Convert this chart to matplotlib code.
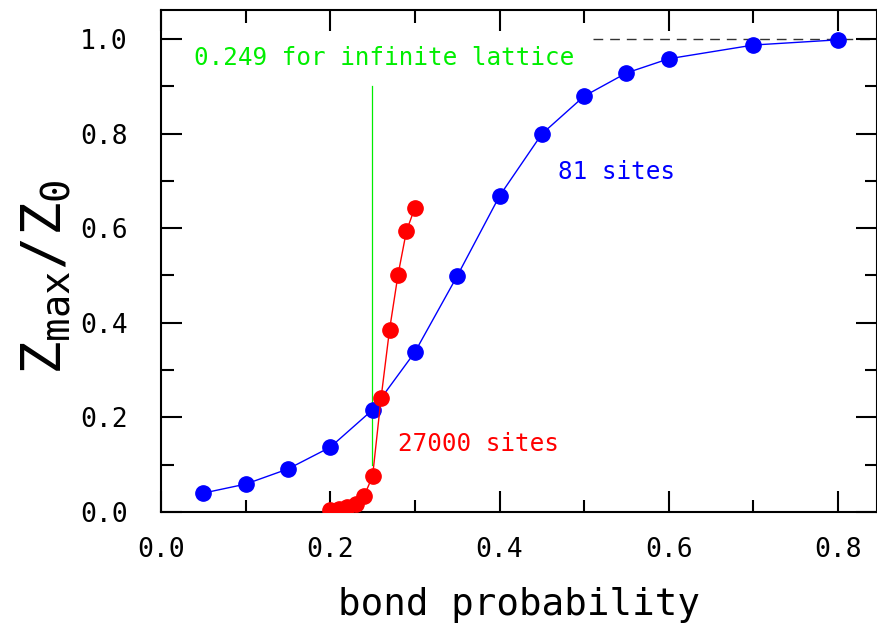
import numpy as np
import matplotlib
matplotlib.use("Agg")
import matplotlib.pyplot as plt
from matplotlib.ticker import MultipleLocator, FormatStrFormatter

# fuente de ancho fijo, parecida a la del original
plt.rcParams['font.family'] = ['DejaVu Sans Mono']
plt.rcParams['mathtext.fontset'] = 'custom'
plt.rcParams['mathtext.rm'] = 'DejaVu Sans Mono'
plt.rcParams['mathtext.it'] = 'DejaVu Sans Mono'
plt.rcParams['mathtext.default'] = 'regular'

# 81 sites
p_81 = [0.05, 0.10, 0.15, 0.20, 0.25, 0.30, 0.35, 0.40, 0.45, 0.50, 0.55, 0.60, 0.70, 0.80]
z_81 = [0.040, 0.059, 0.091, 0.137, 0.216, 0.338, 0.499, 0.668, 0.799, 0.879, 0.928, 0.958, 0.987, 0.998]

# 27000 sites
p_27k = [0.20, 0.21, 0.22, 0.23, 0.24, 0.25, 0.26, 0.27, 0.28, 0.29, 0.30]
z_27k = [0.004, 0.006, 0.010, 0.017, 0.034, 0.076, 0.241, 0.385, 0.501, 0.594, 0.643]

p_c = 0.249

fig = plt.figure(figsize=(8.77, 6.34), dpi=100)
ax = fig.add_axes([0.1836, 0.1924, 0.8164, 0.7918])

# umbral de percolacion
ax.plot([p_c, p_c], [0.1, 0.9], color="#00ee00", lw=0.9, zorder=1)
ax.plot([0.51, 0.86], [1.0, 1.0], color="#333333", lw=1.0, dashes=(7, 5), zorder=1)

ax.plot(p_81, z_81, color="blue", lw=1.0, marker="o", ms=11, zorder=3)
ax.plot(p_27k, z_27k, color="red", lw=1.0, marker="o", ms=11, zorder=4)

ax.text(0.039, 0.96, "0.249 for infinite lattice", color="#00ee00", fontsize=17.5,
        va="center", ha="left")
ax.text(0.469, 0.719, "81 sites", color="blue", fontsize=17.5, va="center", ha="left")
ax.text(0.28, 0.144, "27000 sites", color="red", fontsize=17.5, va="center", ha="left")

ax.set_xlim(0, 0.846)
ax.set_ylim(0, 1.061)
ax.xaxis.set_major_locator(MultipleLocator(0.2))
ax.xaxis.set_minor_locator(MultipleLocator(0.1))
ax.yaxis.set_major_locator(MultipleLocator(0.2))
ax.yaxis.set_minor_locator(MultipleLocator(0.1))
ax.xaxis.set_major_formatter(FormatStrFormatter("%.1f"))
ax.yaxis.set_major_formatter(FormatStrFormatter("%.1f"))
ax.tick_params(which="both", direction="in", top=True, right=True, width=1.5,
               labelsize=19, colors="black")
ax.tick_params(axis="y", which="major", length=15, pad=24)
ax.tick_params(axis="x", which="major", length=15, pad=18)
ax.tick_params(which="minor", length=9)
for s in ax.spines.values():
    s.set_linewidth(1.5)

ax.set_xlabel("bond probability", fontsize=27, labelpad=17)
ax.set_ylabel(r"$Z_{max}/Z_0$", fontsize=40)
ax.yaxis.set_label_coords(-0.124, 0.468)

fig.savefig("out.png", dpi=100)
